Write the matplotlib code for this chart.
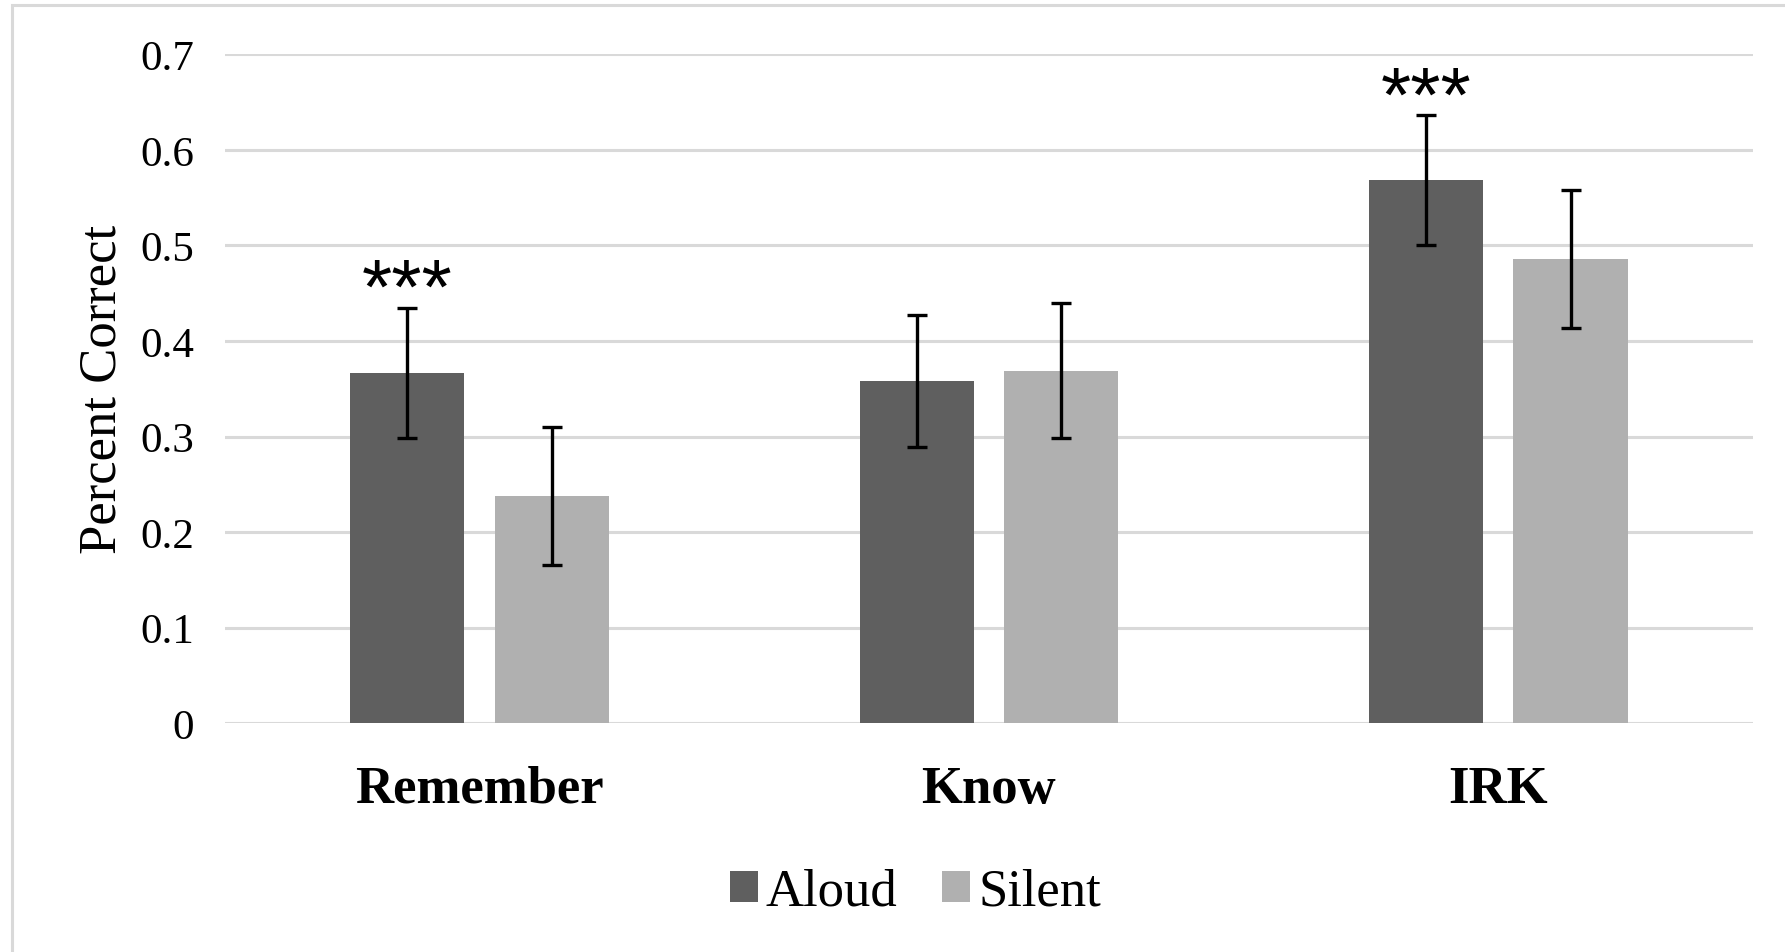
import matplotlib
matplotlib.use("Agg")
import matplotlib.pyplot as plt
import numpy as np
from matplotlib.patches import Rectangle

categories = ["Remember", "Know", "IRK"]
series = ["Aloud", "Silent"]
aloud = [0.367, 0.358, 0.568]
silent = [0.238, 0.369, 0.486]
aloud_err = [0.068, 0.069, 0.068]
silent_err = [0.072, 0.071, 0.072]
significant = [True, False, True]  # marked *** above the Aloud bar

colors = ["#5f5f5f", "#b0b0b0"]
yticks = [0, 0.1, 0.2, 0.3, 0.4, 0.5, 0.6, 0.7]
ytick_labels = ["0", "0.1", "0.2", "0.3", "0.4", "0.5", "0.6", "0.7"]

serif = ["Liberation Serif", "DejaVu Serif"]

fig = plt.figure(figsize=(17.85, 9.53), dpi=100)
ax = fig.add_axes([0.126, 0.240, 0.856, 0.702])

# light frame around the whole chart (only left and top edges show)
fig.patches.append(Rectangle((12 / 1785, -0.05), 1.2, 1 - 6 / 953 + 0.05,
                             transform=fig.transFigure, fill=False,
                             edgecolor="#d9d9d9", linewidth=2.2))

x = np.arange(len(categories))
width = 0.224
offset = 0.142
err_kw = dict(ecolor="black", elinewidth=2.4, capsize=7, capthick=2.4)

ax.bar(x - offset, aloud, width, color=colors[0], label=series[0],
       yerr=aloud_err, error_kw=err_kw, zorder=3)
ax.bar(x + offset, silent, width, color=colors[1], label=series[1],
       yerr=silent_err, error_kw=err_kw, zorder=3)

for i, sig in enumerate(significant):
    if sig:
        ax.text(x[i] - offset, aloud[i] + aloud_err[i] - 0.005, "***",
                ha="center", va="baseline", fontsize=56,
                family=["Liberation Sans", "DejaVu Sans"])

ax.set_xlim(-0.5, len(categories) - 0.5)
ax.set_ylim(0, 0.7)
ax.set_yticks(yticks)
ax.set_yticklabels(ytick_labels, family=serif, fontsize=31)
ax.set_xticks(x)
ax.set_xticklabels(categories, family=serif, fontsize=38, fontweight="bold")
ax.tick_params(axis="both", length=0)
ax.tick_params(axis="y", pad=22)
ax.tick_params(axis="x", pad=30)

ax.grid(axis="y", color="#d9d9d9", linewidth=2.2, zorder=0)
ax.set_axisbelow(True)
for side in ["top", "right", "left", "bottom"]:
    ax.spines[side].set_visible(False)

ax.set_ylabel("Percent Correct", family=serif, fontsize=38, labelpad=10)

ax.legend(loc="upper center", bbox_to_anchor=(0.452, -0.145), ncol=2,
          frameon=False, prop={"family": serif, "size": 38},
          handlelength=0.53, handleheight=0.53, handletextpad=0.15,
          columnspacing=0.85)

fig.savefig("out.png", dpi=100)
